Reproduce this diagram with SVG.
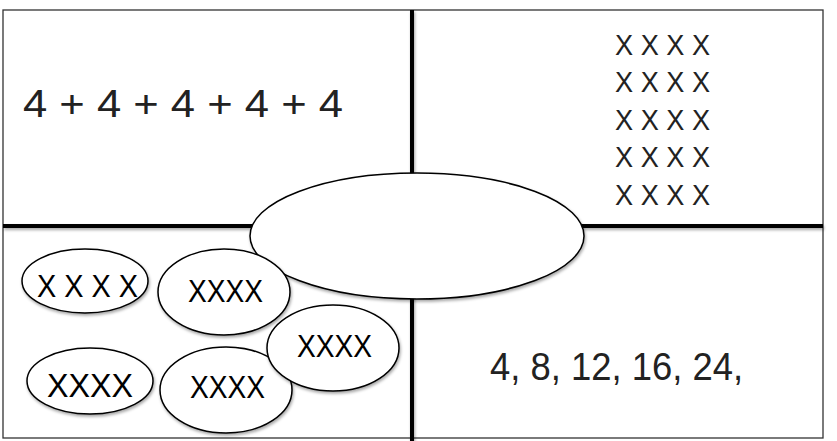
<svg xmlns="http://www.w3.org/2000/svg" width="837" height="441" viewBox="0 0 837 441">
<defs>
<filter id="sh" x="-10%" y="-10%" width="130%" height="140%">
<feDropShadow dx="1" dy="2" stdDeviation="1.5" flood-color="#000" flood-opacity="0.35"/>
</filter>
<style>
.frame{fill:#fff;stroke:#333;stroke-width:1.3}
.div{stroke:#000;stroke-width:4;fill:none}
.ov{fill:#fff;stroke:#000;stroke-width:1.5}
.hand{font-family:"Liberation Sans","DejaVu Sans",sans-serif;font-weight:300;fill:#222}
.x{font-family:"Liberation Sans",Arial,sans-serif;fill:#000}
</style>
</defs>
<rect class="frame" x="3" y="10" width="820" height="428"/>
<g id="dividers" filter="url(#sh)">
<line class="div" x1="412" y1="10" x2="412" y2="441"/>
<line class="div" x1="3" y1="226" x2="823" y2="226"/>
</g>
<g id="q1">
<text class="hand" x="23" y="117" font-size="38" textLength="320" lengthAdjust="spacingAndGlyphs">4 + 4 + 4 + 4 + 4</text>
</g>
<g id="q2">
<text class="hand" x="615" y="55" font-size="30" textLength="95" lengthAdjust="spacingAndGlyphs">X X X X</text>
<text class="hand" x="615" y="92" font-size="30" textLength="95" lengthAdjust="spacingAndGlyphs">X X X X</text>
<text class="hand" x="615" y="130" font-size="30" textLength="95" lengthAdjust="spacingAndGlyphs">X X X X</text>
<text class="hand" x="615" y="167" font-size="30" textLength="95" lengthAdjust="spacingAndGlyphs">X X X X</text>
<text class="hand" x="615" y="205" font-size="30" textLength="95" lengthAdjust="spacingAndGlyphs">X X X X</text>
</g>
<g id="q4">
<text class="hand" x="490" y="380" font-size="38" textLength="253" lengthAdjust="spacingAndGlyphs">4, 8, 12, 16, 24,</text>
</g>
<g id="center">
<ellipse class="ov" cx="417" cy="236" rx="167" ry="63" filter="url(#sh)"/>
</g>
<g id="e1">
<ellipse class="ov" cx="85" cy="281" rx="63" ry="32" filter="url(#sh)"/>
<text class="x" x="37" y="297" font-size="31" textLength="101" lengthAdjust="spacingAndGlyphs">X X X X</text>
</g>
<g id="e2">
<ellipse class="ov" cx="224" cy="292" rx="66" ry="43" filter="url(#sh)"/>
<text class="x" x="188" y="302" font-size="32" textLength="75" lengthAdjust="spacingAndGlyphs">XXXX</text>
</g>
<g id="e4">
<ellipse class="ov" cx="90" cy="381" rx="63" ry="33" filter="url(#sh)"/>
<text class="x" x="47" y="397" font-size="33" textLength="86" lengthAdjust="spacingAndGlyphs">XXXX</text>
</g>
<g id="e5">
<ellipse class="ov" cx="226" cy="390" rx="66" ry="43" filter="url(#sh)"/>
<text class="x" x="190" y="398" font-size="32" textLength="75" lengthAdjust="spacingAndGlyphs">XXXX</text>
</g>
<g id="e3">
<ellipse class="ov" cx="333" cy="348" rx="66" ry="43" filter="url(#sh)"/>
<text class="x" x="297" y="357" font-size="32" textLength="75" lengthAdjust="spacingAndGlyphs">XXXX</text>
</g>
</svg>
